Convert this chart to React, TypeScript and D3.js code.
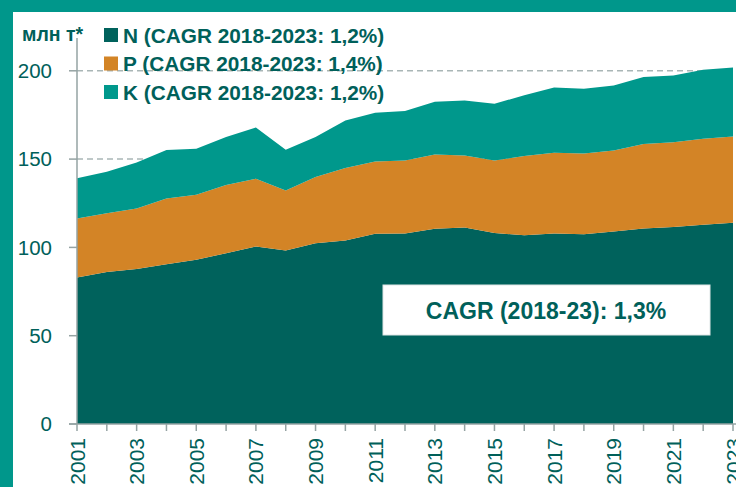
import * as d3 from 'd3'

const YEARS = [
  2001, 2002, 2003, 2004, 2005, 2006, 2007, 2008, 2009, 2010, 2011, 2012, 2013, 2014, 2015, 2016,
  2017, 2018, 2019, 2020, 2021, 2022, 2023,
]
const N_VALUES = [
  82.9, 86.0, 87.7, 90.5, 93.0, 96.7, 100.5, 98.2, 102.4, 103.9, 107.7, 107.9, 110.5, 111.3, 108.1,
  106.9, 107.9, 107.5, 109.0, 110.7, 111.6, 112.8, 113.9,
]
const P_VALUES = [
  33.5, 33.4, 34.3, 37.2, 36.8, 38.6, 38.4, 34.0, 37.4, 41.0, 41.0, 41.3, 42.1, 40.8, 41.1, 44.8,
  45.7, 45.7, 45.9, 47.8, 48.0, 48.7, 48.9,
]
const K_VALUES = [
  22.8, 23.4, 26.1, 27.4, 26.0, 27.2, 29.0, 23.1, 22.7, 27.0, 27.6, 28.0, 29.9, 31.1, 32.2, 34.4,
  37.0, 36.7, 36.8, 38.0, 37.8, 39.1, 39.0,
]
const SERIES = ['N', 'P', 'K']
const LEGEND_LABELS = [
  'N (CAGR 2018-2023: 1,2%)',
  'P (CAGR 2018-2023: 1,4%)',
  'K (CAGR 2018-2023: 1,2%)',
]
const Y_TICKS = [0, 50, 100, 150, 200]
const GRID_TICKS = [150, 200]
const UNIT_LABEL = 'млн т*'
const NOTE_LABEL = 'CAGR (2018-23): 1,3%'

const WIDTH = 736
const HEIGHT = 487
const COLORS = ['#00625c', '#d38426', '#00988c']
const FRAME = '#00978b'
const TEXT = '#00605a'
const AXIS = '#95a3a3'
const FONT = '"Liberation Sans", Arial, sans-serif'

export default function App() {
  const x = d3.scaleLinear([2001, 2023], [77, 733])
  const y = d3.scaleLinear([0, 200], [424, 70.8])

  const rows = YEARS.map((year, i) => ({ year, N: N_VALUES[i], P: P_VALUES[i], K: K_VALUES[i] }))
  const stacked = d3.stack<(typeof rows)[number]>().keys(SERIES)(rows)
  const area = d3
    .area<d3.SeriesPoint<(typeof rows)[number]>>()
    .x((d) => x(d.data.year))
    .y0((d) => y(d[0]))
    .y1((d) => y(d[1]))

  return (
    <div style={{ position: 'fixed', left: 0, top: 0 }}>
      <svg width={WIDTH} height={HEIGHT} style={{ display: 'block', fontFamily: FONT }}>
        <rect width={WIDTH} height={HEIGHT} fill="#fff" />
        <rect x={0} y={0} width={WIDTH} height={12} fill={FRAME} />
        <rect x={0} y={0} width={13} height={HEIGHT} fill={FRAME} />

        {GRID_TICKS.map((t) => (
          <line
            key={t}
            x1={x(2001)}
            x2={WIDTH}
            y1={y(t)}
            y2={y(t)}
            stroke="#a9b6b6"
            strokeWidth={1.5}
            strokeDasharray="6,4"
          />
        ))}

        {stacked.map((s, i) => (
          <path key={s.key} d={area(s) ?? ''} fill={COLORS[i]} />
        ))}

        {/* y axis */}
        <line x1={x(2001)} x2={x(2001)} y1={38} y2={y(0)} stroke={AXIS} strokeWidth={1.5} />
        {Y_TICKS.map((t) => (
          <g key={t} transform={`translate(0,${y(t)})`}>
            <line x1={69} x2={x(2001)} stroke={AXIS} strokeWidth={1.5} />
            <text x={52} dy="0.36em" textAnchor="end" fontSize={20.5} fill={TEXT}>
              {t}
            </text>
          </g>
        ))}

        {/* x axis */}
        <line x1={69} x2={WIDTH} y1={y(0)} y2={y(0)} stroke={AXIS} strokeWidth={1.5} />
        {YEARS.map((yr, i) => (
          <g key={yr} transform={`translate(${x(yr)},${y(0)})`}>
            <line y1={0} y2={7} stroke={AXIS} strokeWidth={1.5} />
            {i % 2 === 0 && (
              <text
                transform="translate(0,14) rotate(-90)"
                dy="0.36em"
                textAnchor="end"
                fontSize={21}
                fill={TEXT}
              >
                {yr}
              </text>
            )}
          </g>
        ))}

        <text x={22} y={41} fontSize={19.5} fontWeight="bold" fill={TEXT}>
          {UNIT_LABEL}
        </text>

        {LEGEND_LABELS.map((label, i) => (
          <g key={label} transform={`translate(104,${35 + i * 28.5})`}>
            <rect x={0} y={-7} width={14} height={14} fill={COLORS[i]} />
            <text x={19} dy="0.36em" fontSize={20.8} fontWeight="bold" fill={TEXT}>
              {label}
            </text>
          </g>
        ))}

        <rect x={383} y={285} width={327} height={50} fill="#fff" stroke="#dfe6e6" strokeWidth={1} />
        <text x={546} y={311} dy="0.36em" textAnchor="middle" fontSize={23} fontWeight="bold" fill={TEXT}>
          {NOTE_LABEL}
        </text>
      </svg>
    </div>
  )
}
